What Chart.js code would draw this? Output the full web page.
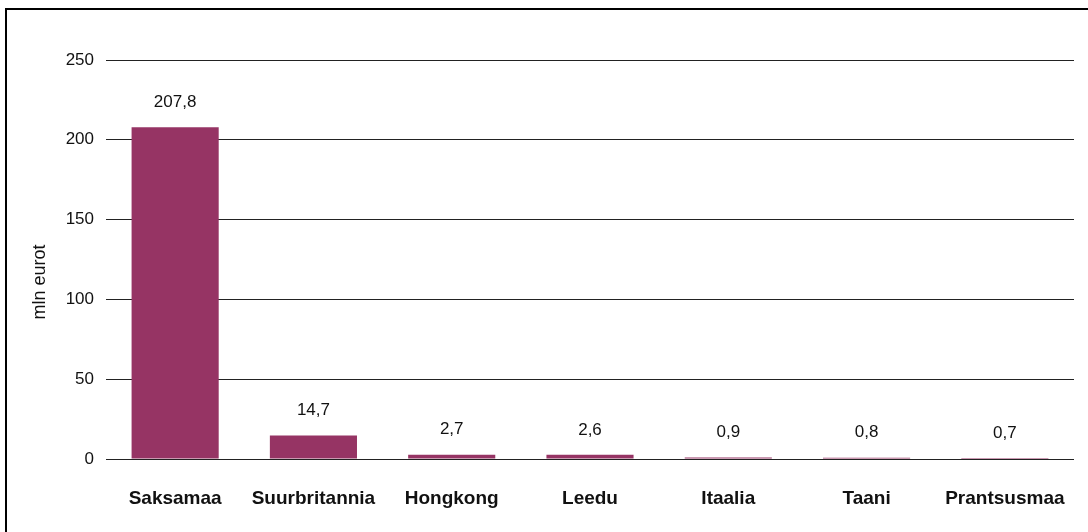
<!DOCTYPE html>
<html>
<head>
<meta charset="utf-8">
<script src="https://cdn.jsdelivr.net/npm/chart.js@4"></script>
<style>
  html, body { margin: 0; padding: 0; background: #fff; overflow: hidden; }
  #wrap { position: relative; width: 1088px; height: 532px; }
  #frame { position: absolute; left: 5px; top: 8px; width: 1200px; height: 600px;
           border-top: 2px solid #000; border-left: 2px solid #000; pointer-events: none; }
  canvas { position: absolute; left: 0; top: 0; }
</style>
</head>
<body>
<div id="wrap">
  <canvas id="chart" width="1088" height="532"></canvas>
  <div id="frame"></div>
</div>
<script>
// ---- data ----
const categories = ['Saksamaa', 'Suurbritannia', 'Hongkong', 'Leedu', 'Itaalia', 'Taani', 'Prantsusmaa'];
const values = [207.8, 14.7, 2.7, 2.6, 0.9, 0.8, 0.7];
const yTicks = [0, 50, 100, 150, 200, 250];
const yTitle = 'mln eurot';

const FONT = '"Liberation Sans", Arial, Helvetica, sans-serif';
const BAR = '#963464';

// value labels above bars, comma decimal
const valueLabels = {
  id: 'valueLabels',
  afterDatasetsDraw(chart) {
    const { ctx } = chart;
    const meta = chart.getDatasetMeta(0);
    ctx.save();
    ctx.font = '17px ' + FONT;
    ctx.fillStyle = '#111';
    ctx.textAlign = 'center';
    ctx.textBaseline = 'middle';
    meta.data.forEach((bar, i) => {
      ctx.fillText(values[i].toFixed(1).replace('.', ','), bar.x, bar.y - 25);
    });
    ctx.restore();
  }
};

// y axis title sits a bit below the middle of the axis in the original
const axisTitle = {
  id: 'axisTitle',
  afterDraw(chart) {
    const { ctx } = chart;
    ctx.save();
    ctx.translate(40, 282);
    ctx.rotate(-Math.PI / 2);
    ctx.font = '18px ' + FONT;
    ctx.fillStyle = '#111';
    ctx.textAlign = 'center';
    ctx.textBaseline = 'middle';
    ctx.fillText(yTitle, 0, 0);
    ctx.restore();
  }
};

new Chart(document.getElementById('chart'), {
  type: 'bar',
  data: {
    labels: categories,
    datasets: [{
      data: values,
      backgroundColor: BAR,
      borderWidth: 0,
      barPercentage: 0.63,
      categoryPercentage: 1.0,
    }],
  },
  options: {
    responsive: false,
    animation: false,
    devicePixelRatio: 1,
    layout: { padding: { left: 0, right: 14, top: 60, bottom: 13 } },
    plugins: { legend: { display: false }, tooltip: { enabled: false } },
    scales: {
      x: {
        grid: { display: false },
        border: { display: false },
        ticks: { color: '#111', font: { family: FONT, size: 19, weight: 'bold' }, padding: 20, maxRotation: 0 },
        afterFit: s => { s.height = 60; },
      },
      y: {
        min: 0, max: 250,
        afterBuildTicks: s => { s.ticks = yTicks.map(v => ({ value: v })); },
        grid: { color: '#222', lineWidth: 1, drawTicks: false },
        border: { display: false },
        ticks: { color: '#111', font: { family: FONT, size: 17 }, padding: 12 },
        afterFit: s => { s.width = 106; },
      },
    },
  },
  plugins: [valueLabels, axisTitle],
});
</script>
</body>
</html>
